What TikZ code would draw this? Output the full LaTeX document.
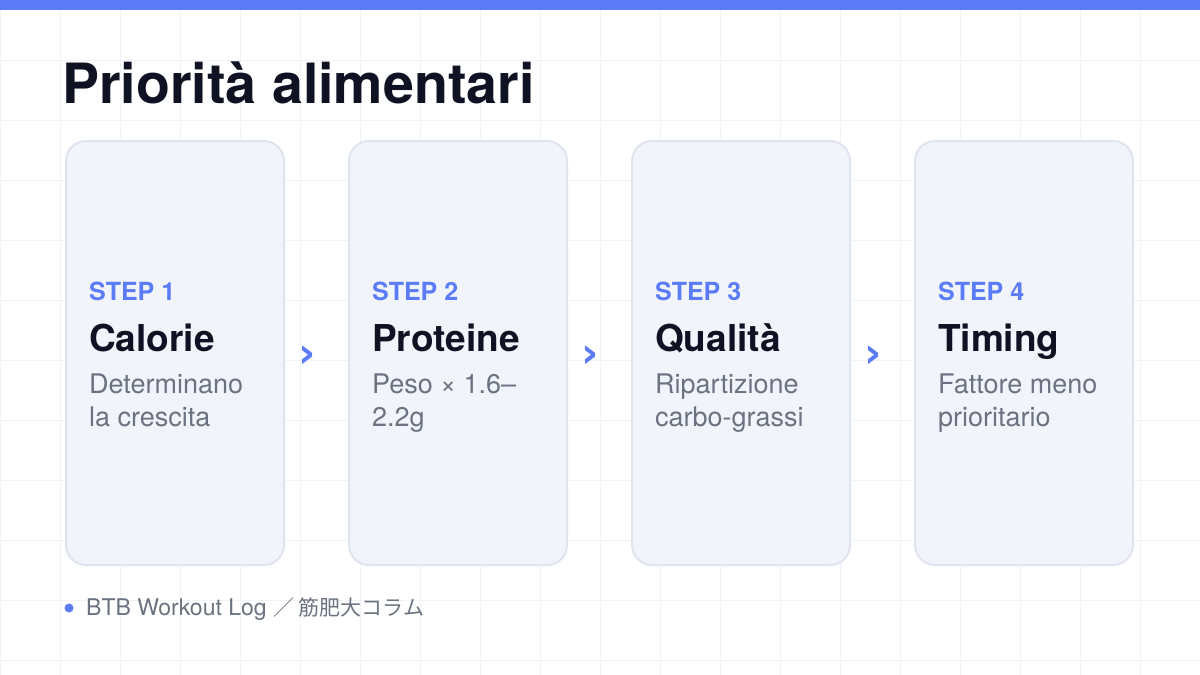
\documentclass[tikz,border=0pt]{standalone}
\usepackage{fontspec}
\setmainfont{TeX Gyre Heros}
\newfontfamily\cjkfont{Noto Sans CJK JP}
\newfontfamily\glyphfont{DejaVu Sans Bold}
\usetikzlibrary{positioning}
\definecolor{accent}{RGB}{91,124,246}
\definecolor{cardfill}{RGB}{242,244,251}
\definecolor{cardline}{RGB}{224,228,239}
\definecolor{ink}{RGB}{15,18,34}
\definecolor{muted}{RGB}{107,114,128}
\definecolor{gridgray}{RGB}{241,243,247}

\begin{document}
\begin{tikzpicture}[
				x=1pt,y=-1pt,
				card/.style={draw=cardline,line width=2pt,fill=cardfill,rounded corners=20pt,
					minimum width=218pt,minimum height=424pt,inner sep=0pt,outer sep=0pt},
				gridline/.style={draw=gridgray,line width=1pt,step=60pt}]
			\tikzstyle{steplabel}=[anchor=base west,inner sep=0pt,text=accent,font=\fontsize{25}{30}\selectfont\bfseries]
			\tikzstyle{cardtitle}=[anchor=base west,inner sep=0pt,text=ink,font=\fontsize{37}{44}\selectfont\bfseries]
			\tikzstyle{carddesc}=[anchor=base west,inner sep=0pt,text=muted,align=left,font=\fontsize{27}{33}\selectfont]
			\tikzstyle{chevron}=[inner sep=0pt,text=accent,font=\glyphfont\fontsize{42}{42}\selectfont]
			\useasboundingbox (0,0) rectangle (1200,675);
			\fill[white] (0,0) rectangle (1200,675);
			\draw[gridline] (0,0) grid (1200,675);
			\fill[accent] (0,0) rectangle (1200,10);
			\node[anchor=base west,inner sep=0pt,text=ink,font=\fontsize{55.5}{60}\selectfont\bfseries] (heading) at (62,103) {Priorità alimentari};
			% cards
			\node[card,anchor=north west] (c1) at (66,141) {};
			\node[card,right=65pt of c1] (c2) {};
			\node[card,right=65pt of c2] (c3) {};
			\node[card,right=65pt of c3] (c4) {};
			% step 1
			\node[steplabel] (s1) at ([shift={(23,159)}]c1.north west) {STEP 1};
			\node[cardtitle] (t1) at ([shift={(23,210)}]c1.north west) {Calorie};
			\node[carddesc] (d1) at ([shift={(23,285)}]c1.north west) {Determinano\\la crescita};
			% step 2
			\node[steplabel] (s2) at ([shift={(23,159)}]c2.north west) {STEP 2};
			\node[cardtitle] (t2) at ([shift={(23,210)}]c2.north west) {Proteine};
			\node[carddesc] (d2) at ([shift={(23,285)}]c2.north west) {Peso × 1.6–\\2.2g};
			% step 3
			\node[steplabel] (s3) at ([shift={(23,159)}]c3.north west) {STEP 3};
			\node[cardtitle] (t3) at ([shift={(23,210)}]c3.north west) {Qualità};
			\node[carddesc] (d3) at ([shift={(23,285)}]c3.north west) {Ripartizione\\carbo-grassi};
			% step 4
			\node[steplabel] (s4) at ([shift={(23,159)}]c4.north west) {STEP 4};
			\node[cardtitle] (t4) at ([shift={(23,210)}]c4.north west) {Timing};
			\node[carddesc] (d4) at ([shift={(23,285)}]c4.north west) {Fattore meno\\prioritario};
			% chevrons between the cards
			\node[chevron] (a12) at ([shift={(23,4)}]c1.east) {›};
			\node[chevron] (a23) at ([shift={(23,4)}]c2.east) {›};
			\node[chevron] (a34) at ([shift={(23,4)}]c3.east) {›};
			% footer
			\node[circle,fill=accent,minimum size=9pt,inner sep=0pt] (dot) at (69,608) {};
			\node[anchor=base west,inner sep=0pt,text=muted,font=\fontsize{23}{26}\selectfont] (source) at ([shift={(17,7)}]dot.center) {BTB Workout Log {\cjkfont\fontsize{21}{26}\selectfont ／ 筋肥大コラム}};
		\end{tikzpicture}
\end{document}
